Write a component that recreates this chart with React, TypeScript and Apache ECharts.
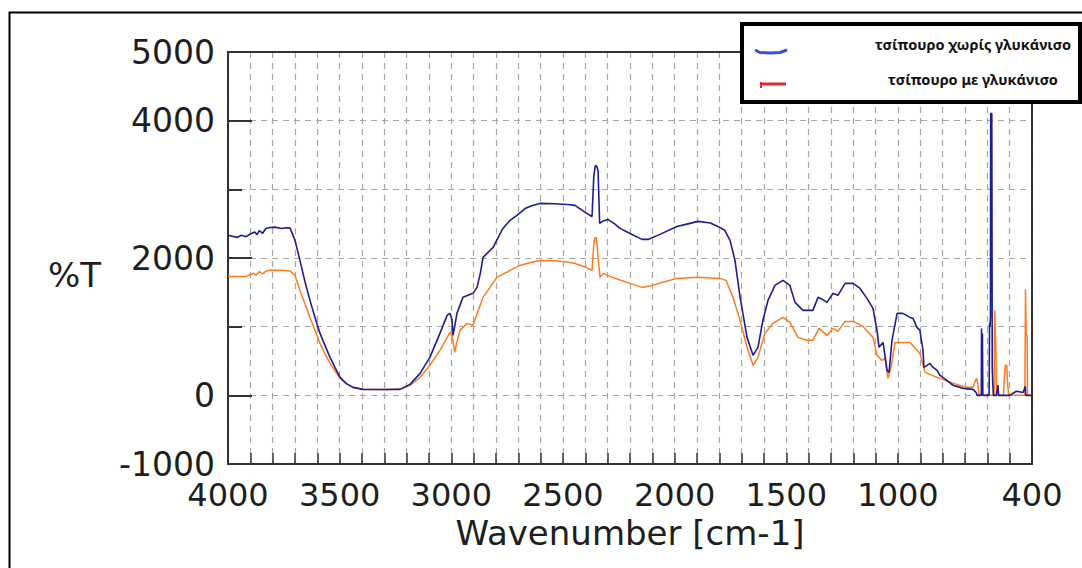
import React, { useEffect, useRef } from "react";
import * as echarts from "echarts";

// ---- Data ----
const blueWavenumbers = [
  4000, 3960, 3940, 3920, 3900, 3880, 3870, 3860, 3845, 3830, 3812, 3790, 3760, 3740, 3722,
  3700, 3678, 3655, 3633, 3610, 3588, 3565, 3543, 3520, 3498, 3470, 3440, 3396, 3300, 3230,
  3185, 3140, 3096, 3051, 3019, 3006, 2997, 2993, 2985, 2975, 2948, 2903, 2885, 2870, 2858,
  2813, 2769, 2740, 2706, 2670, 2640, 2603, 2540, 2480, 2446, 2401, 2370, 2362, 2355, 2348,
  2343, 2336, 2320, 2299, 2270, 2245, 2200, 2146, 2119, 2066, 1990, 1950, 1896, 1840, 1797,
  1775, 1752, 1730, 1707, 1676, 1649, 1627, 1605, 1582, 1551, 1515, 1484, 1461, 1425, 1381,
  1358, 1340, 1318, 1291, 1269, 1237, 1201, 1170, 1139, 1112, 1094, 1085, 1067, 1049, 1040,
  1027, 1004, 978, 946, 933, 915, 902, 893, 888, 884, 870, 857, 848, 825, 812,
  781, 754, 722, 709, 664, 650, 646, 627, 626, 624, 622, 620, 600, 592, 590,
  588, 586, 585, 580, 578, 576, 573, 560, 552, 550, 520, 500, 485, 470, 440,
  430, 428, 400,
];
const blueValues = [
  2330, 2300, 2330, 2310, 2350, 2380, 2340, 2400, 2360, 2430, 2445, 2450, 2430, 2440, 2435,
  2256, 1965, 1650, 1383, 1130, 902, 720, 553, 400, 262, 170, 116, 87, 85, 87,
  160, 320, 553, 902, 1165, 1194, 1100, 873, 1000, 1194, 1427, 1485, 1572, 1780, 2009,
  2154, 2431, 2540, 2620, 2720, 2760, 2795, 2790, 2780, 2766, 2664, 2605, 3200, 3348, 3330,
  3275, 2504, 2540, 2562, 2500, 2431, 2358, 2271, 2271, 2344, 2460, 2490, 2533, 2510, 2445,
  2400, 2256, 1965, 1427, 844, 582, 699, 1092, 1383, 1601, 1674, 1601, 1354, 1237, 1237,
  1427, 1400, 1354, 1485, 1456, 1630, 1630, 1557, 1412, 1266, 946, 699, 771, 364, 335,
  801, 1194, 1194, 1135, 1121, 990, 946, 757, 655, 408, 437, 466, 422, 364, 291,
  218, 146, 116, 102, 87, 40, 0, 0, 975, 200, 900, 0, 0, 0, 1050,
  1000, 1150, 4105, 4105, 400, 200, 0, 0, 150, 0, 0, 0, 30, 60, 40,
  130, 0, 0,
];

const orangeWavenumbers = [
  4000, 3920, 3900, 3885, 3875, 3860, 3845, 3830, 3812, 3760, 3722, 3700, 3678, 3655, 3633,
  3610, 3588, 3565, 3543, 3520, 3498, 3470, 3440, 3396, 3300, 3230, 3185, 3140, 3096, 3051,
  3006, 2997, 2993, 2985, 2975, 2961, 2930, 2903, 2858, 2796, 2737, 2693, 2650, 2603, 2540,
  2480, 2446, 2401, 2370, 2362, 2357, 2350, 2343, 2334, 2320, 2290, 2245, 2200, 2146, 2100,
  2050, 1990, 1896, 1797, 1770, 1739, 1707, 1676, 1649, 1627, 1596, 1560, 1515, 1484, 1448,
  1407, 1381, 1354, 1318, 1291, 1269, 1237, 1201, 1157, 1112, 1094, 1072, 1058, 1045, 1031,
  1013, 946, 902, 879, 825, 754, 691, 664, 655, 648, 643, 638, 630, 570, 567,
  564, 562, 559, 528, 523, 519, 513, 509, 504, 432, 429, 426, 422, 420, 400,
];
const orangeValues = [
  1732, 1732, 1760, 1780, 1750, 1800, 1770, 1810, 1820, 1820, 1810, 1747, 1528, 1330, 1135,
  940, 757, 600, 466, 350, 247, 170, 116, 87, 85, 87, 146, 262, 437, 655,
  917, 860, 801, 626, 780, 946, 1048, 1019, 1427, 1718, 1820, 1892, 1930, 1965, 1960,
  1940, 1921, 1870, 1820, 2200, 2300, 2290, 2000, 1718, 1776, 1732, 1680, 1630, 1572, 1601,
  1650, 1703, 1718, 1703, 1674, 1427, 1092, 699, 437, 553, 902, 1048, 1135, 1063, 844,
  801, 801, 975, 873, 975, 932, 1077, 1077, 1004, 844, 582, 509, 539, 247, 408,
  771, 771, 611, 335, 262, 175, 116, 116, 200, 247, 180, 20, 0, 0, 1237,
  1237, 700, 0, 0, 300, 437, 437, 150, 0, 0, 1543, 873, 873, 0, 0,
];

const xLabelValues = [4000, 3500, 3000, 2500, 2000, 1500, 1000, 400];
const yLabelValues = [-1000, 0, 2000, 4000, 5000];
const yLongTickValues = [0, 2000, 4000];

const seriesNames = ["τσίπουρο χωρίς γλυκάνισο", "τσίπουρο με γλυκάνισο"];
const yAxisTitle = "%T";
const xAxisTitle = "Wavenumber [cm-1]";

const zip = (xs: number[], ys: number[]) => xs.map((x, i) => [x, ys[i]]);

const AXIS_COLOR = "#333";
const TEXT_COLOR = "#1e1e1e";
const GRID_COLOR = "#a6a6a6";
const FONT = "DejaVu Sans";

export default function App() {
  const ref = useRef<HTMLDivElement>(null);

  useEffect(() => {
    if (!ref.current) return;
    const chart = echarts.init(ref.current, undefined, { renderer: "svg" });

    const option: any = {
      animation: false,
      backgroundColor: "#ffffff",
      grid: { left: 228, top: 52, right: 50, bottom: 104 },
      xAxis: [
        {
          type: "value",
          inverse: true,
          min: 400,
          max: 4000,
          interval: 100,
          position: "bottom",
          name: xAxisTitle,
          nameLocation: "middle",
          nameGap: 42,
          nameTextStyle: { fontSize: 34, fontFamily: FONT, color: TEXT_COLOR },
          axisLine: { onZero: false, lineStyle: { color: AXIS_COLOR, width: 2 } },
          axisTick: { inside: true, length: 11, lineStyle: { color: AXIS_COLOR, width: 1.5 } },
          axisLabel: {
            fontSize: 32,
            fontFamily: FONT,
            color: TEXT_COLOR,
            margin: 15,
            formatter: (v: number) => (xLabelValues.includes(v) ? String(v) : ""),
          },
          splitLine: { show: true, lineStyle: { color: GRID_COLOR, type: [6, 5], width: 1.2 } },
        },
        {
          type: "value",
          inverse: true,
          min: 400,
          max: 4000,
          position: "top",
          axisLine: { onZero: false, lineStyle: { color: AXIS_COLOR, width: 2 } },
          axisTick: { show: false },
          axisLabel: { show: false },
          splitLine: { show: false },
        },
      ],
      yAxis: [
        {
          type: "value",
          min: -1000,
          max: 5000,
          interval: 1000,
          position: "left",
          axisLine: { show: true, onZero: false, lineStyle: { color: AXIS_COLOR, width: 2 } },
          axisTick: { show: true, inside: true, length: 14, lineStyle: { color: AXIS_COLOR, width: 2 } },
          axisLabel: {
            fontSize: 33,
            fontFamily: FONT,
            color: TEXT_COLOR,
            margin: 13,
            formatter: (v: number) => (yLabelValues.includes(v) ? String(v) : ""),
          },
          splitLine: { show: true, lineStyle: { color: GRID_COLOR, type: [6, 5], width: 1.2 } },
        },
        {
          type: "value",
          min: -1000,
          max: 5000,
          position: "left",
          axisLine: { show: false },
          axisTick: {
            show: true,
            inside: true,
            length: 24,
            customValues: yLongTickValues,
            lineStyle: { color: AXIS_COLOR, width: 2 },
          },
          axisLabel: { show: false },
          splitLine: { show: false },
        },
        {
          type: "value",
          min: -1000,
          max: 5000,
          position: "right",
          axisLine: { show: true, onZero: false, lineStyle: { color: AXIS_COLOR, width: 2 } },
          axisTick: { show: false },
          axisLabel: { show: false },
          splitLine: { show: false },
        },
      ],
      series: [
        {
          name: seriesNames[1],
          type: "line",
          xAxisIndex: 0,
          yAxisIndex: 0,
          data: zip(orangeWavenumbers, orangeValues),
          showSymbol: false,
          symbol: "none",
          lineStyle: { color: "#ff7a1c", width: 1.5 },
          z: 3,
        },
        {
          name: seriesNames[0],
          type: "line",
          xAxisIndex: 0,
          yAxisIndex: 0,
          data: zip(blueWavenumbers, blueValues),
          showSymbol: false,
          symbol: "none",
          lineStyle: { color: "#1d1d94", width: 1.6 },
          z: 4,
        },
      ],
      graphic: [
        {
          type: "rect",
          shape: { x: 9.5, y: 12.5, width: 1100, height: 600 },
          style: { fill: "none", stroke: "#000", lineWidth: 2 },
          z: 10,
        },
        {
          type: "text",
          left: 48,
          top: 258,
          style: { text: yAxisTitle, fontSize: 34, fontFamily: FONT, fill: TEXT_COLOR },
          z: 10,
        },
        {
          type: "group",
          z: 20,
          children: [
            {
              type: "rect",
              shape: { x: 742, y: 24, width: 338, height: 78 },
              style: { fill: "#fff", stroke: "#000", lineWidth: 4 },
              z: 20,
            },
            {
              type: "polyline",
              shape: { points: [[755, 50], [760, 52.5], [770, 53], [780, 52.5], [787, 50]] },
              style: { stroke: "#3b4fd6", lineWidth: 3, fill: "none" },
              z: 21,
            },
            {
              type: "line",
              shape: { x1: 761, y1: 84, x2: 786, y2: 84 },
              style: { stroke: "#e52626", lineWidth: 3 },
              z: 21,
            },
            {
              type: "line",
              shape: { x1: 761, y1: 82, x2: 761, y2: 88 },
              style: { stroke: "#e52626", lineWidth: 2 },
              z: 21,
            },
            {
              type: "text",
              x: 973,
              y: 44,
              style: {
                text: seriesNames[0],
                fontSize: 14.5,
                fontWeight: "bold",
                fontFamily: "Noto Sans",
                fill: "#111",
                align: "center",
                verticalAlign: "middle",
              },
              z: 21,
            },
            {
              type: "text",
              x: 973,
              y: 79,
              style: {
                text: seriesNames[1],
                fontSize: 14.5,
                fontWeight: "bold",
                fontFamily: "Noto Sans",
                fill: "#111",
                align: "center",
                verticalAlign: "middle",
              },
              z: 21,
            },
          ],
        },
      ],
    };

    chart.setOption(option);
    return () => chart.dispose();
  }, []);

  return (
    <div
      ref={ref}
      style={{ position: "fixed", left: 0, top: 0, width: 1082, height: 568, background: "#fff" }}
    />
  );
}
